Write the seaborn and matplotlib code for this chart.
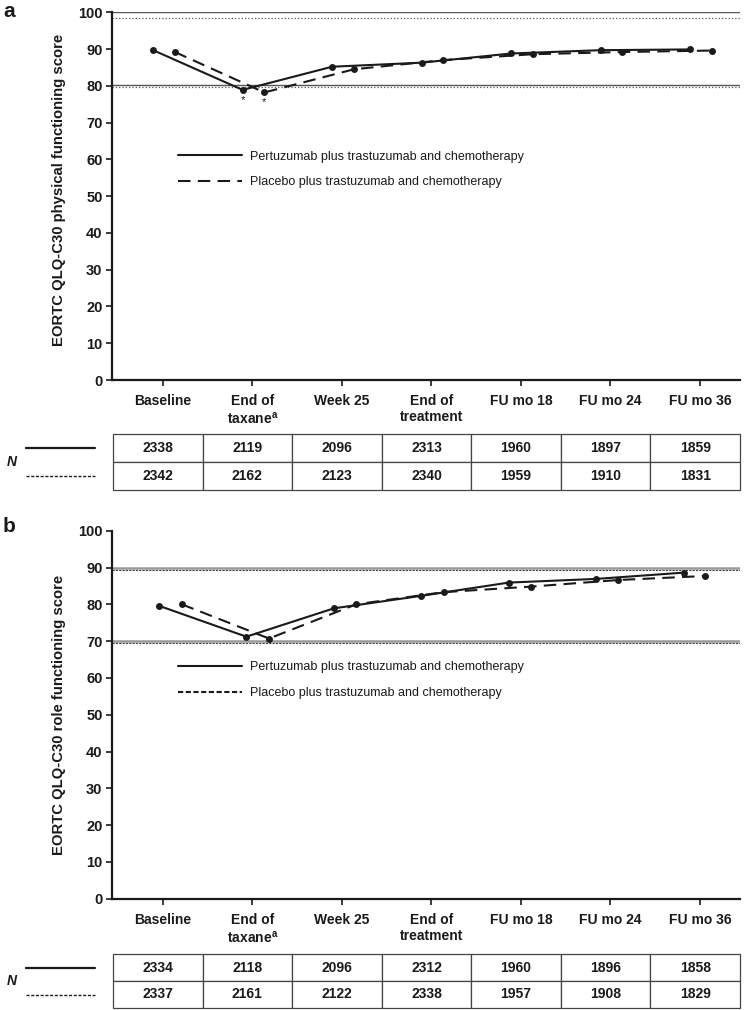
# EORTC QLQ-C30 physical / role functioning over time, two panels with N tables
import numpy as np
import pandas as pd
import matplotlib.pyplot as plt
import seaborn as sns
from matplotlib.lines import Line2D

sns.set_style("ticks")
plt.rcParams['font.family'] = ['Liberation Sans', 'DejaVu Sans']

# data ..........................................................................
timepoints = ["Baseline", "End of\ntaxane$^{\\mathregular{a}}$", "Week 25", "End of\ntreatment",
              "FU mo 18", "FU mo 24", "FU mo 36"]
series_names = ["Pertuzumab plus trastuzumab and chemotherapy",
                "Placebo plus trastuzumab and chemotherapy"]

# panel a - physical functioning
pf_ptz = [89.7, 78.9, 85.2, 86.3, 88.8, 89.7, 89.9]
pf_pla = [89.2, 78.2, 84.5, 87.0, 88.6, 89.2, 89.6]
pf_n_ptz = [2338, 2119, 2096, 2313, 1960, 1897, 1859]
pf_n_pla = [2342, 2162, 2123, 2340, 1959, 1910, 1831]
pf_refs = [100, 98.5, 80.3, 79.7]

# panel b - role functioning
rf_ptz = [79.6, 71.2, 78.9, 82.3, 85.9, 86.9, 88.6]
rf_pla = [80.0, 70.7, 80.0, 83.3, 84.8, 86.6, 87.7]
rf_n_ptz = [2334, 2118, 2096, 2312, 1960, 1896, 1858]
rf_n_pla = [2337, 2161, 2122, 2338, 1957, 1908, 1829]
rf_refs = [90, 89.3, 70.0, 69.4]

W, H = 747, 1010
ink = '#1a1a1a'


def fig_box(left, top, right, bottom):
    # pixel box -> figure fraction
    return [left / W, 1 - bottom / H, (right - left) / W, (bottom - top) / H]


fig = plt.figure(figsize=(W / 100, H / 100), dpi=100)
ax_a = fig.add_axes(fig_box(112.3, 12.3, 740, 380))
ax_b = fig.add_axes(fig_box(112.3, 530.7, 740, 898.7))
tab_a = fig.add_axes(fig_box(113, 434, 740, 490))
tab_b = fig.add_axes(fig_box(113, 954, 740, 1008))


def draw_panel(ax, ptz, pla, ylabel, refs, ref_styles, xpos, legend_dash, label_y, legend_top, stars):
    idx = np.arange(len(timepoints))
    # reference lines
    for val, (col, lw, ls) in zip(refs, ref_styles):
        ax.axhline(val, color=col, lw=lw, ls=ls, zorder=1)

    for k, (vals, (start, step)) in enumerate(zip([ptz, pla], xpos)):
        df = pd.DataFrame({'x': start + step * idx, 'score': vals})
        sns.lineplot(data=df, x='x', y='score', ax=ax, color=ink, lw=1.5, marker='o',
                     markersize=5, markeredgewidth=0, sort=False, zorder=3)
        if k == 1:
            ax.lines[-1].set_dashes((6, 3.5))
        if stars:
            ax.annotate('*', (df['x'][1], df['score'][1]), xytext=(0, -7),
                        textcoords='offset points', ha='center', va='center', fontsize=8, color=ink)

    ax.set_xlim(-0.566, 6.447)
    ax.set_ylim(0, 100)
    ax.set_xticks(idx)
    ax.set_xticklabels(timepoints, fontsize=10, fontweight='bold', color=ink)
    ax.set_yticks(np.arange(0, 101, 10))
    ax.set_yticklabels([str(v) for v in range(0, 101, 10)], fontsize=10.5, fontweight='bold', color=ink)
    ax.tick_params(axis='both', length=4, width=1.2, color=ink)
    ax.tick_params(axis='x', pad=6)
    ax.tick_params(axis='y', pad=3)
    ax.set_xlabel('')
    ax.set_ylabel(ylabel, fontsize=10.7, fontweight='bold', color=ink)
    ax.yaxis.set_label_coords(-0.073, label_y)
    for s in ['top', 'right']:
        ax.spines[s].set_visible(False)
    for s in ['left', 'bottom']:
        ax.spines[s].set_linewidth(1.6)
        ax.spines[s].set_color(ink)

    handles = [Line2D([], [], color=ink, lw=1.5),
               Line2D([], [], color=ink, lw=1.5, dashes=legend_dash)]
    ax.legend(handles, series_names, loc='upper left', bbox_to_anchor=(0.105, legend_top),
              frameon=False, fontsize=9, handlelength=5.1, handletextpad=0.65,
              labelspacing=1.1, borderpad=0, borderaxespad=0, labelcolor=ink)


def draw_table(ax, n_ptz, n_pla):
    tbl = ax.table(cellText=[[str(v) for v in n_ptz], [str(v) for v in n_pla]],
                   cellLoc='center', bbox=[0, 0, 1, 1])
    tbl.auto_set_font_size(False)
    for cell in tbl.get_celld().values():
        cell.set_edgecolor('#444444')
        cell.set_linewidth(0.9)
        cell.get_text().set_fontsize(10)
        cell.get_text().set_fontweight('bold')
        cell.get_text().set_color(ink)
    ax.axis('off')
    # row keys on the left
    box = ax.get_position()
    y1 = box.y0 + box.height * 0.75
    y2 = box.y0 + box.height * 0.25
    fig.add_artist(Line2D([26 / W, 95 / W], [y1, y1], color=ink, lw=1.6))
    fig.add_artist(Line2D([26 / W, 95 / W], [y2, y2], color=ink, lw=1.0, dashes=(2.2, 1.2)))
    fig.text(12 / W, box.y0 + box.height * 0.5, 'N', fontsize=10, fontweight='bold',
             fontstyle='italic', ha='center', va='center', color=ink)


ref_a = [('#555555', 1.0, '-'), ('#555555', 0.9, ':'), ('#555555', 1.0, '-'), ('#555555', 0.9, ':')]
ref_b = [('#999999', 1.8, '-'), ('#444444', 0.8, (0, (2, 1))), ('#999999', 1.8, '-'), ('#444444', 0.8, (0, (2, 1)))]

draw_panel(ax_a, pf_ptz, pf_pla, "EORTC QLQ-C30 physical functioning score", pf_refs, ref_a,
           [(-0.11, 1.0), (0.133, 1.0)], (6, 3.5), 0.517, 0.624, True)
draw_panel(ax_b, rf_ptz, rf_pla, "EORTC QLQ-C30 role functioning score", rf_refs, ref_b,
           [(-0.045, 0.977), (0.21, 0.975)], (2.5, 1.2), 0.5, 0.645, False)

draw_table(tab_a, pf_n_ptz, pf_n_pla)
draw_table(tab_b, rf_n_ptz, rf_n_pla)

fig.text(3 / W, 1 - 2 / H, 'a', fontsize=15, fontweight='bold', ha='left', va='top', color=ink)
fig.text(3 / W, 1 - 517 / H, 'b', fontsize=15, fontweight='bold', ha='left', va='top', color=ink)

fig.savefig('out.png', dpi=100)
